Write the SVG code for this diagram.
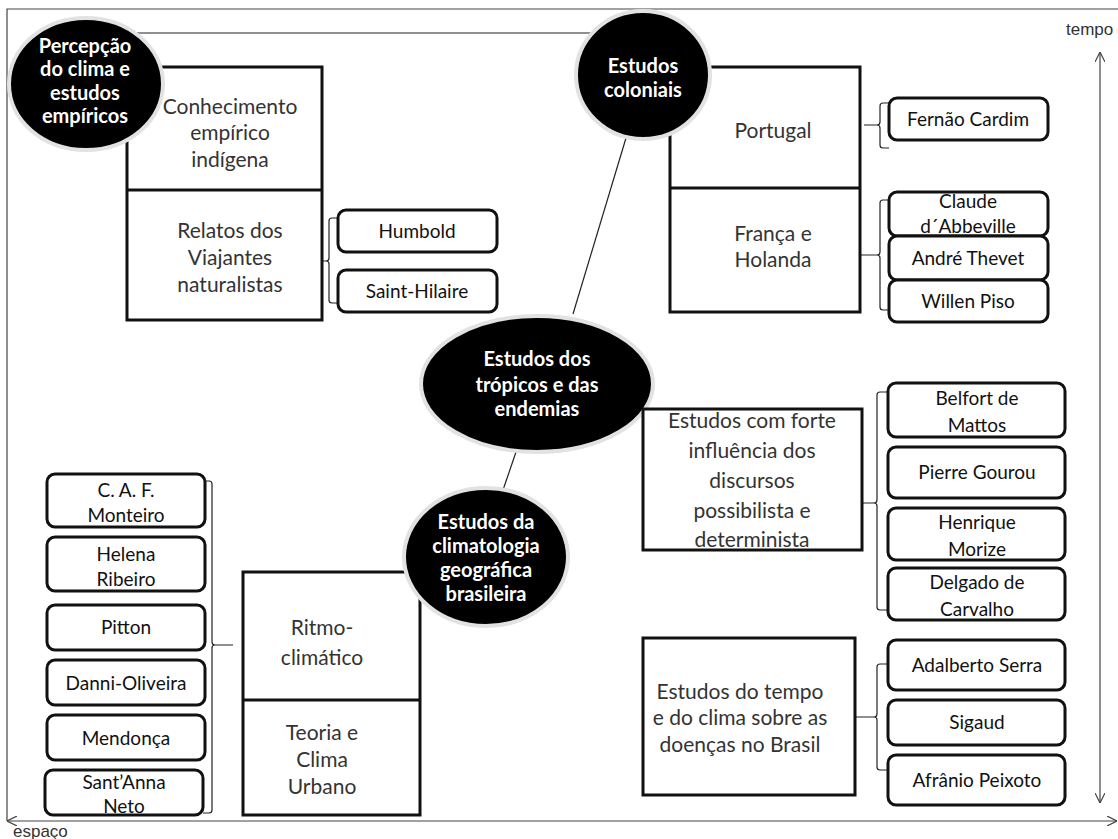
<svg xmlns="http://www.w3.org/2000/svg" width="1118" height="839" viewBox="0 0 1118 839">
<defs>
<style>
.box{fill:#fff;stroke:#111;stroke-width:3}
.auth{fill:#fff;stroke:#111;stroke-width:3}
.bub{fill:#000;stroke:#e2e2e2;stroke-width:4}
.lbl{font-family:Lato,"Liberation Sans",sans-serif;font-size:21px;fill:#333;text-anchor:middle}
.at{font-family:Lato,"Liberation Sans",sans-serif;font-size:19px;fill:#111;text-anchor:middle}
.bt{font-family:Lato,"Liberation Sans",sans-serif;font-size:20px;font-weight:bold;fill:#fff;text-anchor:middle}
.ax{font-family:"Liberation Sans",Arial,sans-serif;font-size:17px;fill:#333}
.br{fill:none;stroke:#222;stroke-width:1.2}
.ln{fill:none;stroke:#222;stroke-width:1.2}
.axl{fill:none;stroke:#444;stroke-width:1.2}
</style>
<marker id="ah" viewBox="0 0 10 10" refX="10" refY="5" markerWidth="10" markerHeight="10" orient="auto-start-reverse" markerUnits="userSpaceOnUse">
<path d="M0,0 L10,5 L0,10" fill="none" stroke="#444" stroke-width="1.2"/>
</marker>
</defs>
<rect width="1118" height="839" fill="#fff"/>
<g id="frame">
<path class="axl" d="M7,821 V9 H1118"/>
<line class="axl" x1="7" y1="821" x2="1117" y2="821" marker-start="url(#ah)" marker-end="url(#ah)"/>
<line class="axl" x1="1100" y1="52" x2="1100" y2="803" marker-start="url(#ah)" marker-end="url(#ah)"/>
<text class="ax" x="1066" y="35">tempo</text>
<text class="ax" x="13" y="837">espaço</text>
</g>
<g id="connectors">
<line class="ln" x1="130" y1="33" x2="592" y2="33"/>
<line class="ln" x1="626" y1="138" x2="573" y2="314"/>
<line class="ln" x1="516" y1="452" x2="503" y2="490"/>
<path class="br" d="M338,218 h-6 q-3,0 -3,3 v37 q0,3 -3,3 h-4 h4 q3,0 3,3 v36 q0,3 3,3 h6"/>
<path class="br" d="M889,103 h-6 q-3,0 -3,3 v16 q0,3 -3,3 h-13 h13 q3,0 3,3 v17 q0,3 3,3 h6"/>
<path class="br" d="M889,200 h-6 q-3,0 -3,3 v49 q0,3 -3,3 h-17 h17 q3,0 3,3 v49 q0,3 3,3 h6"/>
<path class="br" d="M203,481 h6 q3,0 3,3 v158 q0,3 3,3 h18 h-18 q-3,0 -3,3 v162 q0,3 -3,3 h-6"/>
<path class="br" d="M888,392 h-8 q-3,0 -3,3 v105 q0,3 -3,3 h-12 h12 q3,0 3,3 v101 q0,3 3,3 h8"/>
<path class="br" d="M888,664 h-8 q-3,0 -3,3 v47 q0,3 -3,3 h-19 h19 q3,0 3,3 v47 q0,3 3,3 h8"/>
</g>
<g id="n-percepcao-box">
<rect class="box" x="127" y="67" width="195" height="253"/>
<line x1="127" y1="190" x2="322" y2="190" stroke="#111" stroke-width="3"/>
<text class="lbl" x="230" y="114">Conhecimento</text>
<text class="lbl" x="230" y="140">empírico</text>
<text class="lbl" x="230" y="167">indígena</text>
<text class="lbl" x="230" y="238">Relatos dos</text>
<text class="lbl" x="230" y="265">Viajantes</text>
<text class="lbl" x="230" y="292">naturalistas</text>
</g>
<g id="n-percepcao">
<ellipse class="bub" cx="86" cy="84" rx="77" ry="66"/>
<text class="bt" x="85" y="53">Percepção</text>
<text class="bt" x="85" y="76">do clima e</text>
<text class="bt" x="85" y="100">estudos</text>
<text class="bt" x="85" y="123">empíricos</text>
</g>
<g id="n-humbold"><rect class="auth" x="338" y="210" width="159" height="42" rx="8"/><text class="at" x="417" y="238">Humbold</text></g>
<g id="n-sainthilaire"><rect class="auth" x="338" y="270" width="159" height="42" rx="8"/><text class="at" x="417" y="298">Saint-Hilaire</text></g>
<g id="n-coloniais-box">
<rect class="box" x="670" y="67" width="190" height="245"/>
<line x1="670" y1="188" x2="860" y2="188" stroke="#111" stroke-width="3"/>
<text class="lbl" x="773" y="138">Portugal</text>
<text class="lbl" x="773" y="241">França e</text>
<text class="lbl" x="773" y="267">Holanda</text>
</g>
<g id="n-coloniais">
<ellipse class="bub" cx="643" cy="75" rx="67" ry="64"/>
<text class="bt" x="643" y="73">Estudos</text>
<text class="bt" x="643" y="97">coloniais</text>
</g>
<g id="n-cardim"><rect class="auth" x="889" y="98" width="159" height="42" rx="8"/><text class="at" x="968" y="126">Fernão Cardim</text></g>
<g id="n-abbeville"><rect class="auth" x="889" y="192" width="159" height="44" rx="8"/><text class="at" x="968" y="208">Claude</text><text class="at" x="968" y="233">d´Abbeville</text></g>
<g id="n-thevet"><rect class="auth" x="889" y="236" width="159" height="44" rx="8"/><text class="at" x="968" y="265">André Thevet</text></g>
<g id="n-piso"><rect class="auth" x="889" y="280" width="159" height="42" rx="8"/><text class="at" x="968" y="308">Willen Piso</text></g>
<g id="n-tropicos">
<ellipse class="bub" cx="537" cy="384" rx="116" ry="68"/>
<text class="bt" x="537" y="366">Estudos dos</text>
<text class="bt" x="537" y="392">trópicos e das</text>
<text class="bt" x="537" y="416">endemias</text>
</g>
<g id="n-forte">
<rect class="box" x="643" y="409" width="219" height="141"/>
<text class="lbl" x="752" y="428">Estudos com forte</text>
<text class="lbl" x="752" y="458">influência dos</text>
<text class="lbl" x="752" y="488">discursos</text>
<text class="lbl" x="752" y="518">possibilista e</text>
<text class="lbl" x="752" y="547">determinista</text>
</g>
<g id="n-belfort"><rect class="auth" x="888" y="383" width="177" height="54" rx="8"/><text class="at" x="977" y="405">Belfort de</text><text class="at" x="977" y="432">Mattos</text></g>
<g id="n-gourou"><rect class="auth" x="888" y="447" width="177" height="51" rx="8"/><text class="at" x="977" y="479">Pierre Gourou</text></g>
<g id="n-morize"><rect class="auth" x="888" y="508" width="177" height="52" rx="8"/><text class="at" x="977" y="529">Henrique</text><text class="at" x="977" y="556">Morize</text></g>
<g id="n-carvalho"><rect class="auth" x="888" y="568" width="177" height="52" rx="8"/><text class="at" x="977" y="589">Delgado de</text><text class="at" x="977" y="616">Carvalho</text></g>
<g id="n-tempo">
<rect class="box" x="643" y="638" width="212" height="157"/>
<text class="lbl" x="740" y="699">Estudos do tempo</text>
<text class="lbl" x="740" y="725">e do clima sobre as</text>
<text class="lbl" x="740" y="752">doenças no Brasil</text>
</g>
<g id="n-serra"><rect class="auth" x="888" y="640" width="177" height="50" rx="8"/><text class="at" x="977" y="672">Adalberto Serra</text></g>
<g id="n-sigaud"><rect class="auth" x="888" y="700" width="177" height="45" rx="8"/><text class="at" x="977" y="729">Sigaud</text></g>
<g id="n-peixoto"><rect class="auth" x="888" y="755" width="177" height="50" rx="8"/><text class="at" x="977" y="787">Afrânio Peixoto</text></g>
<g id="n-ritmo">
<rect class="box" x="243" y="572" width="177" height="243"/>
<line x1="243" y1="700" x2="420" y2="700" stroke="#111" stroke-width="3"/>
<text class="lbl" x="322" y="635">Ritmo-</text>
<text class="lbl" x="322" y="665">climático</text>
<text class="lbl" x="322" y="740">Teoria e</text>
<text class="lbl" x="322" y="767">Clima</text>
<text class="lbl" x="322" y="794">Urbano</text>
</g>
<g id="n-climatologia">
<ellipse class="bub" cx="486" cy="557" rx="82" ry="69"/>
<text class="bt" x="486" y="529">Estudos da</text>
<text class="bt" x="486" y="553">climatologia</text>
<text class="bt" x="486" y="577">geográfica</text>
<text class="bt" x="486" y="601">brasileira</text>
</g>
<g id="n-monteiro"><rect class="auth" x="47" y="474" width="158" height="53" rx="8"/><text class="at" x="126" y="497">C. A. F.</text><text class="at" x="126" y="522">Monteiro</text></g>
<g id="n-ribeiro"><rect class="auth" x="47" y="537" width="158" height="54" rx="8"/><text class="at" x="126" y="561">Helena</text><text class="at" x="126" y="586">Ribeiro</text></g>
<g id="n-pitton"><rect class="auth" x="47" y="605" width="158" height="45" rx="8"/><text class="at" x="126" y="634">Pitton</text></g>
<g id="n-danni"><rect class="auth" x="47" y="660" width="158" height="45" rx="8"/><text class="at" x="126" y="690">Danni-Oliveira</text></g>
<g id="n-mendonca"><rect class="auth" x="47" y="715" width="158" height="45" rx="8"/><text class="at" x="126" y="745">Mendonça</text></g>
<g id="n-santanna"><rect class="auth" x="45" y="770" width="158" height="45" rx="8"/><text class="at" x="124" y="789">Sant’Anna</text><text class="at" x="124" y="813">Neto</text></g>
</svg>
